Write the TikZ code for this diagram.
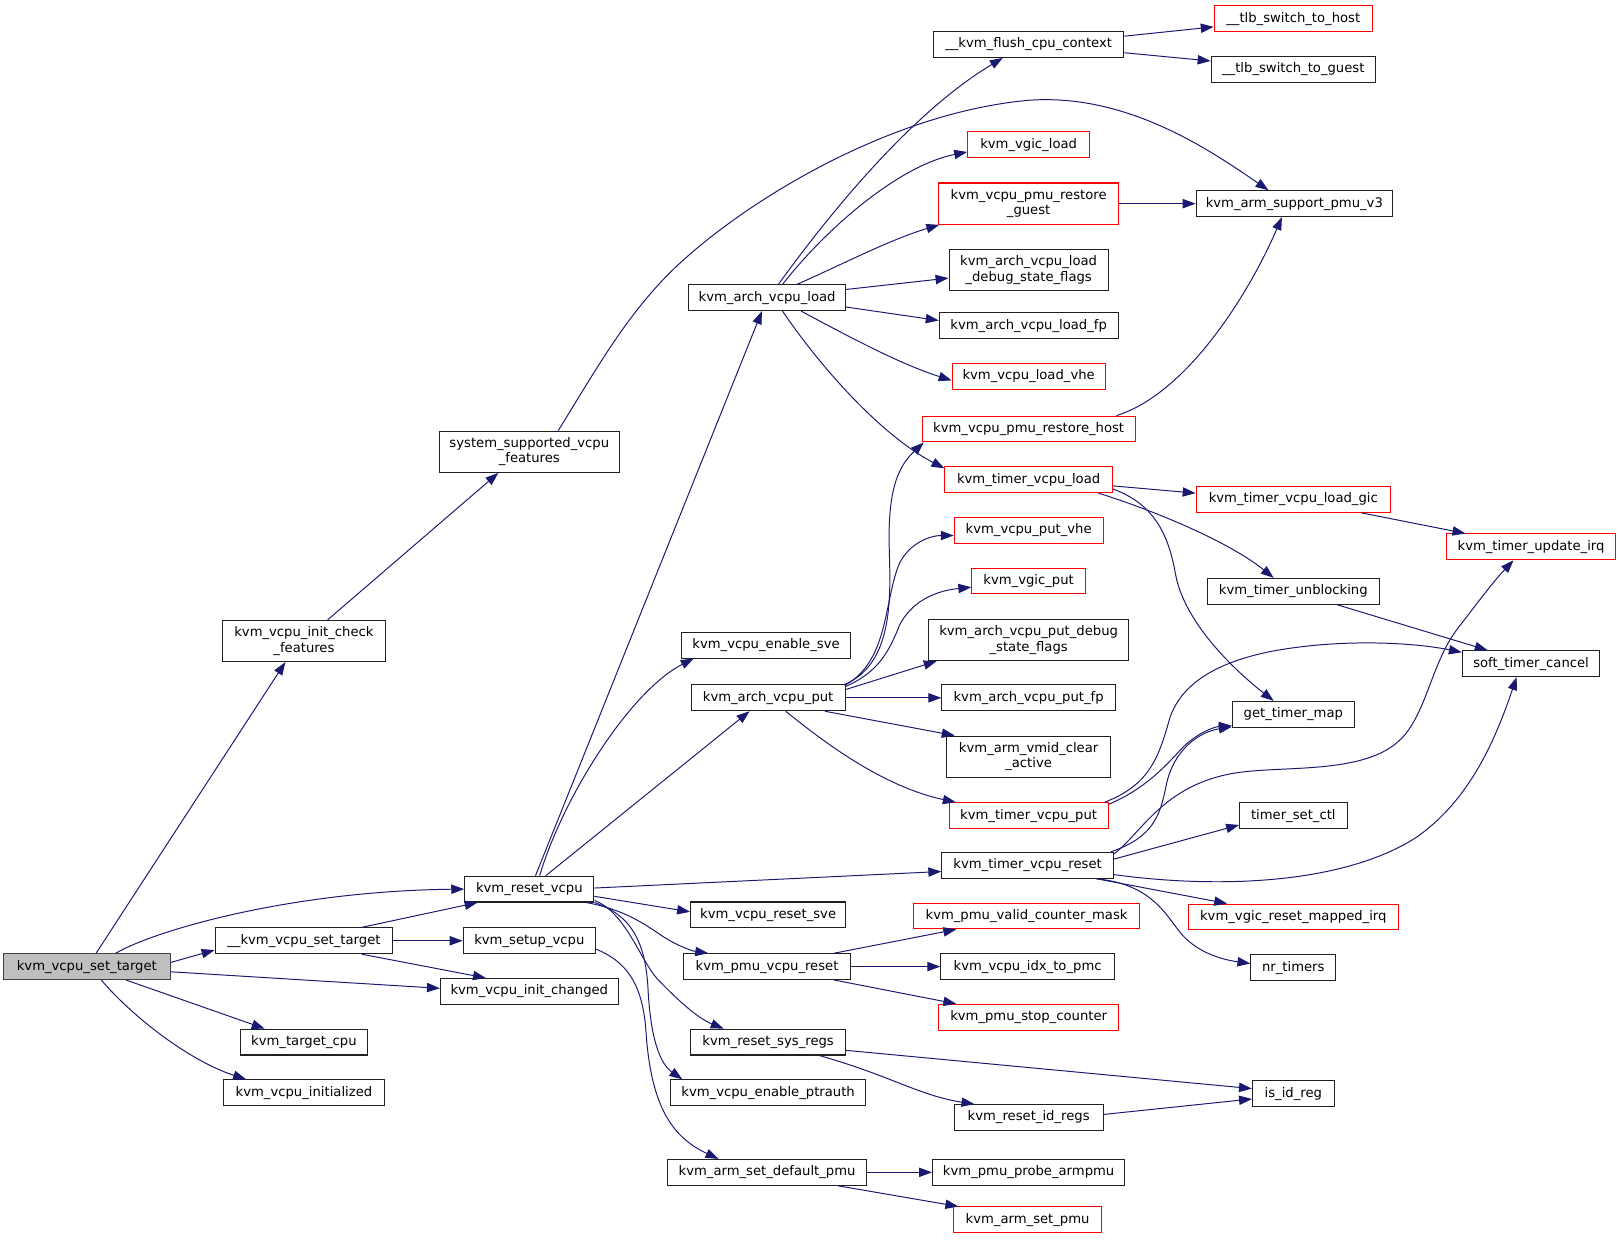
\documentclass[tikz,border=0pt]{standalone}
\usepackage{fontspec}
\setmainfont{DejaVu Sans}
\usetikzlibrary{arrows.meta}
\definecolor{edgeblue}{HTML}{191970}
\definecolor{startfill}{HTML}{BFBFBF}
\definecolor{startdraw}{HTML}{404040}
\definecolor{redb}{HTML}{FF0000}
\definecolor{boxdraw}{HTML}{202020}
\begin{document}
\begin{tikzpicture}[x=1pt,y=-1pt,
  fn/.style={draw=boxdraw, line width=1pt, fill=white, inner xsep=1pt, inner ysep=0pt,
     minimum height=25pt, text height=9.6pt, text depth=3pt,
     font=\fontsize{12.75}{15}\selectfont, minimum width=#1pt},
  fnn/.style={draw=boxdraw, line width=1pt, fill=white, inner xsep=1pt, inner ysep=0pt,
     minimum height=40pt, align=center,
     font=\fontsize{12.75}{15}\selectfont, minimum width=#1pt},
  rednode/.style={draw=redb},
  startnode/.style={fill=startfill, draw=startdraw},
  ce/.style={draw=edgeblue, line width=0.95pt, -{Triangle[length=12.5pt,width=9pt,fill=edgeblue]}},
]
\useasboundingbox (0,0) rectangle (1568,1199);
% column 1
\node[fn=161, startnode] (A) at (84,935) {kvm\_vcpu\_set\_target};
% column 2
\node[fnn=158] (ICF) at (294,620) {kvm\_vcpu\_init\_check\\\_features};
\node[fn=172] (ST) at (294,910) {\_\_kvm\_vcpu\_set\_target};
\node[fn=123] (TC) at (294,1008) {kvm\_target\_cpu};
\node[fn=156] (VI) at (294,1057) {kvm\_vcpu\_initialized};
% column 3
\node[fnn=174] (SSF) at (512,437) {system\_supported\_vcpu\\\_features};
\node[fn=125] (RV) at (512,860) {kvm\_reset\_vcpu};
\node[fn=128] (SV) at (512,910) {kvm\_setup\_vcpu};
\node[fn=172] (IC) at (512,959) {kvm\_vcpu\_init\_changed};
% column 4
\node[fn=152] (AL) at (742,288) {kvm\_arch\_vcpu\_load};
\node[fn=164] (ES) at (741,624) {kvm\_vcpu\_enable\_sve};
\node[fn=149] (AP) at (743,675) {kvm\_arch\_vcpu\_put};
\node[fn=150] (RS) at (743,885) {kvm\_vcpu\_reset\_sve};
\node[fn=161] (PR) at (742,935) {kvm\_pmu\_vcpu\_reset};
\node[fn=150] (SR) at (743,1008) {kvm\_reset\_sys\_regs};
\node[fn=188] (EP) at (743,1057) {kvm\_vcpu\_enable\_ptrauth};
\node[fn=192] (DP) at (742,1134) {kvm\_arm\_set\_default\_pmu};
% column 5
\node[fn=184] (FC) at (995,43) {\_\_kvm\_flush\_cpu\_context};
\node[fn=118, rednode] (VL) at (995,140) {kvm\_vgic\_load};
\node[fnn=174, rednode] (RG) at (995,197) {kvm\_vcpu\_pmu\_restore\\\_guest};
\node[fnn=154] (LD) at (995,261) {kvm\_arch\_vcpu\_load\\\_debug\_state\_flags};
\node[fn=173] (LF) at (995,315) {kvm\_arch\_vcpu\_load\_fp};
\node[fn=148, rednode] (LV) at (995,364) {kvm\_vcpu\_load\_vhe};
\node[fn=206, rednode] (RH) at (995,415) {kvm\_vcpu\_pmu\_restore\_host};
\node[fn=162, rednode] (TL) at (995,464) {kvm\_timer\_vcpu\_load};
\node[fn=144, rednode] (PV) at (995,513) {kvm\_vcpu\_put\_vhe};
\node[fn=110, rednode] (VP) at (995,562) {kvm\_vgic\_put};
\node[fnn=193] (PD) at (995,619) {kvm\_arch\_vcpu\_put\_debug\\\_state\_flags};
\node[fn=168] (PF) at (995,675) {kvm\_arch\_vcpu\_put\_fp};
\node[fnn=158] (VC) at (995,732) {kvm\_arm\_vmid\_clear\\\_active};
\node[fn=154, rednode] (TP) at (995,789) {kvm\_timer\_vcpu\_put};
\node[fn=166] (TR) at (994,837) {kvm\_timer\_vcpu\_reset};
\node[fn=219, rednode] (VM) at (993,886) {kvm\_pmu\_valid\_counter\_mask};
\node[fn=168] (IP) at (994,935) {kvm\_vcpu\_idx\_to\_pmc};
\node[fn=174, rednode] (SC) at (995,984) {kvm\_pmu\_stop\_counter};
\node[fn=144] (RI) at (995,1081) {kvm\_reset\_id\_regs};
\node[fn=186] (PA) at (995,1134) {kvm\_pmu\_probe\_armpmu};
\node[fn=143, rednode] (SP) at (994,1180) {kvm\_arm\_set\_pmu};
% column 6
\node[fn=153, rednode] (TH) at (1251,18) {\_\_tlb\_switch\_to\_host};
\node[fn=159] (TG) at (1251,67) {\_\_tlb\_switch\_to\_guest};
\node[fn=190] (PM) at (1252,197) {kvm\_arm\_support\_pmu\_v3};
\node[fn=188, rednode] (LG) at (1251,483) {kvm\_timer\_vcpu\_load\_gic};
\node[fn=166] (UB) at (1251,572) {kvm\_timer\_unblocking};
\node[fn=118] (GM) at (1251,691) {get\_timer\_map};
\node[fn=104] (TS) at (1251,789) {timer\_set\_ctl};
\node[fn=203, rednode] (RM) at (1251,887) {kvm\_vgic\_reset\_mapped\_irq};
\node[fn=82] (NT) at (1251,936) {nr\_timers};
\node[fn=79] (IR) at (1251,1058) {is\_id\_reg};
% column 7
\node[fn=164, rednode] (UI) at (1481,529) {kvm\_timer\_update\_irq};
\node[fn=133] (SO) at (1481,642) {soft\_timer\_cancel};

% edges from kvm_vcpu_set_target
\draw[ce] ([xshift=9pt]A.north) -- ([xshift=-18pt]ICF.south);
\draw[ce] ([xshift=28pt]A.north) .. controls (150,900) and (280,862) .. (RV.west);
\draw[ce] ([yshift=4pt]A.east) -- ([yshift=-9pt]ST.west);
\draw[ce] ([yshift=-5pt]A.east) -- ([yshift=3pt]IC.west);
\draw[ce] ([xshift=38pt]A.south) -- ([xshift=-38pt]TC.north);
\draw[ce] ([xshift=14pt]A.south) .. controls (125,980) and (180,1025) .. ([xshift=-56pt]VI.north);
% column 2 edges
\draw[ce] ([xshift=23pt]ICF.north) -- ([xshift=-30pt]SSF.south);
\draw[ce] ([xshift=28pt]SSF.north) .. controls (575,360) and (600,315) .. (640,272)
   .. controls (700,208) and (850,110) .. (995,97)
   .. controls (1090,90) and (1170,145) .. ([xshift=-25pt]PM.north);
\draw[ce] ([xshift=56pt]ST.north) -- ([xshift=-50pt]RV.south);
\draw[ce] (ST.east) -- (SV.west);
\draw[ce] ([xshift=56pt]ST.south) -- ([xshift=-42pt]IC.north);
\draw[ce] ([yshift=-8pt]SV.east) .. controls (605,930) and (622,950) .. (625,1000)
   .. controls (630,1070) and (650,1100) .. ([xshift=-47pt]DP.north);
% kvm_reset_vcpu
\draw[ce] ([xshift=6pt]RV.north) -- ([xshift=-5pt]AL.south);
\draw[ce] ([xshift=10pt]RV.north) .. controls (545,770) and (610,668) .. ([xshift=-70pt]ES.south);
\draw[ce] ([xshift=16pt]RV.north) -- ([xshift=-18pt]AP.south);
\draw[ce] ([yshift=1pt]RV.east) -- ([yshift=-6pt]TR.west);
\draw[ce] ([yshift=-7pt]RV.east) -- ([yshift=3pt]RS.west);
\draw[ce] ([xshift=-8pt]RV.south east) .. controls (605,880) and (625,895) .. (640,905)
   .. controls (655,915) and (670,920) .. ([xshift=24pt]PR.north west);
\draw[ce] ([yshift=2pt]RV.south east) .. controls (605,882) and (620,930) .. (636,947)
   .. controls (655,967) and (675,985) .. ([xshift=-43pt]SR.north);
\draw[ce] (RV.south east) .. controls (610,885) and (625,910) .. (627,960)
   .. controls (630,1010) and (640,1030) .. ([xshift=-83pt]EP.north);
% kvm_arch_vcpu_load
\draw[ce] ([xshift=11pt]AL.north) .. controls (800,210) and (880,110) .. ([xshift=-25pt]FC.south);
\draw[ce] ([xshift=15pt]AL.north) .. controls (800,220) and (870,160) .. ([yshift=-7pt]VL.west);
\draw[ce] ([xshift=29pt]AL.north) .. controls (810,258) and (860,232) .. ([xshift=1pt]RG.south west);
\draw[ce] ([yshift=8pt]AL.east) -- ([yshift=-8pt]LD.west);
\draw[ce] ([yshift=-9pt]AL.east) -- ([yshift=5pt]LF.west);
\draw[ce] ([xshift=33pt]AL.south) .. controls (820,325) and (870,352) .. ([yshift=-4pt]LV.west);
\draw[ce] ([xshift=15pt]AL.south) .. controls (790,350) and (850,420) .. ([yshift=-2pt]TL.north west);
\draw[ce] (RG.east) -- (PM.west);
\draw[ce] ([xshift=85pt]RH.north) .. controls (1150,380) and (1210,280) .. ([xshift=-12pt]PM.south);
% kvm_arch_vcpu_put
\draw[ce] ([xshift=-1pt]AP.north east) .. controls (870,640) and (860,560) .. (860,520)
   .. controls (860,470) and (870,450) .. ([xshift=2pt]RH.south west);
\draw[ce] ([xshift=-1pt,yshift=-1pt]AP.north east) .. controls (860,640) and (855,580) .. (870,545)
   .. controls (880,525) and (900,518) .. ([yshift=-5pt]PV.west);
\draw[ce] ([yshift=-2pt]AP.north east) .. controls (850,650) and (860,630) .. (870,605)
   .. controls (880,585) and (900,572) .. ([yshift=-6pt]VP.west);
\draw[ce] ([yshift=8pt]AP.east) -- ([xshift=8pt]PD.south west);
\draw[ce] (AP.east) -- (PF.west);
\draw[ce] ([xshift=-20pt]AP.south east) -- ([xshift=8pt]VC.north west);
\draw[ce] ([xshift=17pt]AP.south) .. controls (790,712) and (850,760) .. ([xshift=7pt]TP.north west);
% kvm_timer_vcpu_load
\draw[ce] ([yshift=-6pt]TL.east) -- ([yshift=6pt]LG.west);
\draw[ce] ([xshift=-14pt]TL.south east) .. controls (1120,495) and (1190,525) .. ([xshift=-19pt]UB.north);
\draw[ce] ([yshift=-9pt]TL.east) .. controls (1115,487) and (1130,515) .. (1137,555)
   .. controls (1145,600) and (1190,645) .. ([xshift=-19pt]GM.north);
\draw[ce] ([xshift=-29pt]LG.south east) -- ([xshift=19pt]UI.north west);
\draw[ce] ([xshift=-41pt]UB.south east) -- ([xshift=25pt]SO.north west);
% kvm_timer_vcpu_put
\draw[ce] ([xshift=-4pt]TP.north east) .. controls (1110,760) and (1120,735) .. (1130,700)
   .. controls (1140,660) and (1180,640) .. (1230,630)
   .. controls (1300,617) and (1370,622) .. ([yshift=-2pt]SO.north west);
\draw[ce] ([yshift=-2pt]TP.north east) .. controls (1110,762) and (1130,738) .. (1145,722)
   .. controls (1160,708) and (1175,703) .. ([yshift=2pt]GM.south west);
% kvm_timer_vcpu_reset
\draw[ce] ([xshift=-3pt]TR.north east) .. controls (1115,810) and (1122,790) .. (1128,760)
   .. controls (1135,725) and (1160,708) .. ([yshift=1pt]GM.south west);
\draw[ce] ([yshift=-2pt]TR.north east) .. controls (1105,805) and (1125,760) .. (1193,748)
   .. controls (1240,740) and (1320,750) .. (1355,715)
   .. controls (1380,690) and (1385,640) .. (1410,608)
   .. controls (1430,582) and (1445,562) .. ([xshift=-17pt]UI.south);
\draw[ce] ([yshift=6pt]TR.east) -- ([yshift=4pt]TS.south west);
\draw[ce] ([yshift=-9pt]TR.east) .. controls (1180,860) and (1300,855) .. (1370,810)
   .. controls (1420,775) and (1445,720) .. ([xshift=-14pt]SO.south);
\draw[ce] ([xshift=-17pt]TR.south east) -- ([xshift=-64pt]RM.north);
\draw[ce] ([xshift=-17pt]TR.south east) .. controls (1110,855) and (1125,880) .. (1140,900)
   .. controls (1155,920) and (1180,928) .. ([yshift=4pt]NT.west);
% kvm_pmu_vcpu_reset
\draw[ce] ([xshift=-16pt]PR.north east) -- ([xshift=-68pt]VM.south);
\draw[ce] (PR.east) -- (IP.west);
\draw[ce] ([xshift=-16pt]PR.south east) -- ([xshift=-70pt]SC.north);
% kvm_reset_sys_regs
\draw[ce] ([yshift=-8pt]SR.east) -- ([yshift=5pt]IR.west);
\draw[ce] ([xshift=-26pt]SR.south east) .. controls (860,1040) and (890,1060) .. ([xshift=20pt]RI.north west);
\draw[ce] ([yshift=3pt]RI.east) -- ([yshift=-5pt]IR.west);
% kvm_arm_set_default_pmu
\draw[ce] (DP.east) -- (PA.west);
\draw[ce] ([xshift=-28pt]DP.south east) -- ([xshift=5pt]SP.north west);
% __kvm_flush_cpu_context
\draw[ce] ([yshift=8pt]FC.east) -- ([yshift=-8pt]TH.west);
\draw[ce] ([yshift=-8pt]FC.east) -- ([yshift=8pt]TG.west);
\end{tikzpicture}
\end{document}
